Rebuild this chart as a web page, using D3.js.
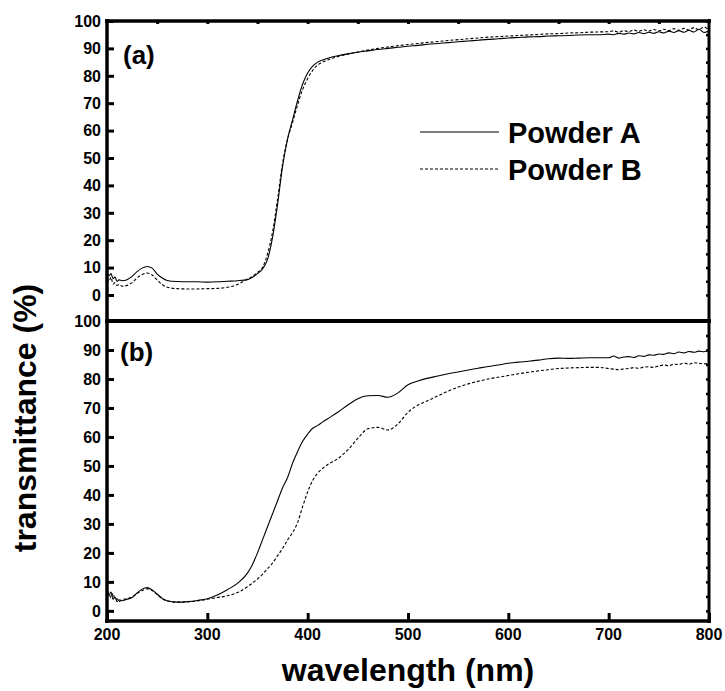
<!DOCTYPE html>
<html>
<head>
<meta charset="utf-8">
<script src="https://cdn.jsdelivr.net/npm/d3@7"></script>
<style>
  body { margin: 0; background: #fff; }
  text { font-family: "Liberation Sans", Arial, sans-serif; font-weight: bold; fill: #000; }
</style>
</head>
<body>
<svg width="725" height="691"></svg>
<script>
// wavelengths (nm) shared by all series
const wl = [200,202,204,206,208,210,212,215,220,225,230,235,240,245,250,255,260,
  270,280,290,300,310,320,330,340,
  345,350,355,360,365,370,375,380,385,390,395,400,405,410,415,420,
  430,440,450,460,470,480,490,500,510,520,530,540,550,560,570,580,590,600,
  610,620,630,640,650,660,670,680,690,700,
  705,710,715,720,725,730,735,740,745,750,755,760,765,770,775,780,785,790,795,800];

// panel (a)
const aPowderA = [8.5,7,7.8,6,6.5,5,5.5,5.2,5.6,6.8,8.5,9.8,10.4,9.8,7.6,6.2,5.3,
  4.9,4.8,4.8,4.7,4.8,5.0,5.2,5.6,
  6.5,7.8,9.5,13,21,33,47,57,64,71,77,81,83.5,85,85.8,86.4,
  87.3,88,88.6,89.1,89.6,90,90.4,90.8,91.1,91.5,91.8,92.1,92.4,92.7,93,93.3,93.5,93.8,
  94,94.2,94.3,94.5,94.6,94.7,94.9,95,95,95.2,
  95.0,95.5,95.2,95.6,95.3,95.8,95.4,95.9,95.5,96.1,95.6,96.3,95.8,96.5,95.9,96.6,96.0,97.0,95.8,96.4];
const aPowderB = [6,5,6.5,4,4.5,3.5,3.8,3.2,3.5,4.5,6.2,7.5,8,7.3,5.5,3.8,2.8,
  2.3,2.2,2.2,2.3,2.4,2.8,3.8,5.8,
  6.8,8.2,10,15,23,35,48,57,63,69.5,75,79,82,84,85,85.8,
  87,87.9,88.7,89.4,90,90.5,91,91.4,91.8,92.2,92.5,92.9,93.2,93.5,93.8,94.1,94.3,94.5,
  94.7,94.9,95.1,95.3,95.4,95.6,95.7,95.9,96,96.1,
  96.4,95.9,96.5,96.1,96.7,96.2,96.8,96.3,96.9,96.4,97.0,96.5,97.2,96.6,97.3,96.7,97.6,96.8,97.8,96.5];

// panel (b)
const bPowderA = [8,5.5,6.5,4,4.8,3.2,3.8,3.5,4,4.6,6.2,7.5,8,7.2,5.8,4.3,3.5,
  3,3.2,3.6,4.2,5.5,7.3,9.5,13,
  16,20,24.5,29,33.5,38,42.5,46,51,55,58.5,61,63,64,65.2,66.3,
  68.5,71,73.2,74.2,74.3,73.7,75.2,78,79.3,80.3,81,81.8,82.4,83.1,83.7,84.3,84.8,85.4,
  85.8,86.1,86.5,87,87.2,87.1,87.2,87.3,87.3,87.3,
  87.9,87.2,87.6,87.7,87.4,88.0,87.8,88.3,88.2,88.6,88.5,89,88.7,89.3,89.0,89.5,89.2,89.6,89.4,90];
const bPowderB = [7,6,4.5,6,4,4.2,3.2,3.8,4.2,4.8,6,7,7.6,7,5.6,4.2,3.4,
  3,3.1,3.4,4,4.6,5.2,6.3,8.3,
  9.6,11,12.6,14.5,16.5,19,21.5,24.5,27,30.5,36,41,45,47.5,49.2,50.5,
  52.5,55.5,59.5,62.8,63.3,62.4,64.5,68.5,71,72.6,74.2,75.8,77.2,78.3,79.2,80,80.6,81.2,
  81.8,82.3,82.8,83.2,83.6,83.8,83.9,84,84,83.6,
  83.4,83.2,83.5,83.6,83.9,83.7,84.1,84.2,84.0,84.5,84.8,84.6,85.1,85.0,85.5,85.1,85.6,85.4,85.2,85.4];

const xTickVals = [200,300,400,500,600,700,800];
const yTickVals = [0,10,20,30,40,50,60,70,80,90,100];
const seriesNames = ["Powder A", "Powder B"];

const svg = d3.select("svg");

const x = d3.scaleLinear().domain([200, 800]).range([107, 709]);

const panels = [
  {key: "a", label: "(a)", top: 21, bottom: 321, dom: [-9.5, 100], A: aPowderA, B: aPowderB, lx: 123, ly: 64},
  {key: "b", label: "(b)", top: 321, bottom: 621, dom: [-3.5, 100], A: bPowderA, B: bPowderB, lx: 120, ly: 361}
];

panels.forEach(p => {
  const y = d3.scaleLinear().domain(p.dom).range([p.bottom, p.top]);
  const g = svg.append("g");

  svg.append("clipPath").attr("id", "clip-" + p.key)
    .append("rect")
    .attr("x", x(200)).attr("y", p.top)
    .attr("width", x(800) - x(200)).attr("height", p.bottom - p.top);

  const line = d3.line()
    .x((d, i) => x(wl[i]))
    .y(d => y(d))
    .curve(d3.curveMonotoneX);

  g.append("path")
    .attr("d", line(p.A))
    .attr("clip-path", "url(#clip-" + p.key + ")")
    .attr("fill", "none").attr("stroke", "#000").attr("stroke-width", 1.1);

  g.append("path")
    .attr("d", line(p.B))
    .attr("clip-path", "url(#clip-" + p.key + ")")
    .attr("fill", "none").attr("stroke", "#000").attr("stroke-width", 1.1)
    .attr("stroke-dasharray", "3,2");

  // left axis, ticks inward
  const left = g.append("g").attr("transform", `translate(${x(200)},0)`);
  left.call(d3.axisRight(y).tickValues(d3.range(0, 101, 5)).tickSize(3).tickFormat(""))
    .call(s => s.select(".domain").remove())
    .call(s => s.selectAll("line").attr("stroke-width", 3));
  left.call(d3.axisRight(y).tickValues(yTickVals).tickSize(7).tickFormat(""))
    .call(s => s.select(".domain").remove())
    .call(s => s.selectAll("line").attr("stroke-width", 3));

  // tick labels
  g.selectAll("text.yl")
    .data(p.key === "a" ? yTickVals.slice(0, 10).concat([100]) : yTickVals.slice(0, 10))
    .join("text")
    .attr("class", "yl")
    .attr("x", 101)
    .attr("y", d => y(d))
    .attr("dy", "0.36em")
    .attr("text-anchor", "end")
    .attr("font-size", 16)
    .text(d => d);

  // right axis, small ticks
  const right = g.append("g").attr("transform", `translate(${x(800)},0)`);
  right.call(d3.axisLeft(y).tickValues(d3.range(0, 101, 5)).tickSize(3).tickFormat(""))
    .call(s => s.select(".domain").remove())
    .call(s => s.selectAll("line").attr("stroke-width", 2.5));

  g.append("text")
    .attr("x", p.lx).attr("y", p.ly)
    .attr("font-size", 26)
    .text(p.label);
});

// bottom labels for panel (b)
const yb = d3.scaleLinear().domain(panels[1].dom).range([621, 321]);
svg.append("text")
  .attr("x", 101).attr("y", yb(100)).attr("dy", "0.36em")
  .attr("text-anchor", "end").attr("font-size", 16).text("100");

// bottom x axis
const bottom = svg.append("g").attr("transform", "translate(0,621)");
bottom.call(d3.axisTop(x).tickValues(d3.range(200, 801, 50)).tickSize(4).tickFormat(""))
  .call(s => s.select(".domain").remove())
  .call(s => s.selectAll("line").attr("stroke-width", 3));
bottom.call(d3.axisTop(x).tickValues(xTickVals).tickSize(8).tickFormat(""))
  .call(s => s.select(".domain").remove())
  .call(s => s.selectAll("line").attr("stroke-width", 3));

svg.selectAll("text.xl")
  .data(xTickVals)
  .join("text")
  .attr("class", "xl")
  .attr("x", d => x(d))
  .attr("y", 640)
  .attr("text-anchor", "middle")
  .attr("font-size", 16)
  .text(d => d);

// top edge ticks of panel (a)
const topAx = svg.append("g").attr("transform", "translate(0,21)");
topAx.call(d3.axisBottom(x).tickValues(d3.range(250, 800, 50)).tickSize(3).tickFormat(""))
  .call(s => s.select(".domain").remove())
  .call(s => s.selectAll("line").attr("stroke-width", 3));

// frame lines
const frame = svg.append("g").attr("stroke", "#000").attr("fill", "none");
frame.append("line").attr("x1", x(200) - 2).attr("x2", x(800) + 2).attr("y1", 21).attr("y2", 21).attr("stroke-width", 3.5);
frame.append("line").attr("x1", x(200) - 2).attr("x2", x(800) + 2).attr("y1", 321).attr("y2", 321).attr("stroke-width", 4);
frame.append("line").attr("x1", x(200) - 2).attr("x2", x(800) + 2).attr("y1", 621).attr("y2", 621).attr("stroke-width", 3.5);
frame.append("line").attr("x1", x(200)).attr("x2", x(200)).attr("y1", 19).attr("y2", 623).attr("stroke-width", 3.5);
frame.append("line").attr("x1", x(800)).attr("x2", x(800)).attr("y1", 19).attr("y2", 623).attr("stroke-width", 3);

// legend
const legend = svg.append("g");
seriesNames.forEach((name, i) => {
  const ly = 132 + i * 37;
  legend.append("line")
    .attr("x1", 420).attr("x2", 499).attr("y1", ly).attr("y2", ly)
    .attr("stroke", "#000").attr("stroke-width", 1.1)
    .attr("stroke-dasharray", i === 1 ? "3,2" : null);
  legend.append("text")
    .attr("x", 508).attr("y", ly + 11)
    .attr("font-size", 29)
    .text(name);
});

// axis titles
svg.append("text")
  .attr("x", 408).attr("y", 681)
  .attr("text-anchor", "middle")
  .attr("font-size", 32)
  .text("wavelength (nm)");

svg.append("text")
  .attr("transform", "translate(36,418) rotate(-90)")
  .attr("text-anchor", "middle")
  .attr("font-size", 32)
  .text("transmittance (%)");
</script>
</body>
</html>
